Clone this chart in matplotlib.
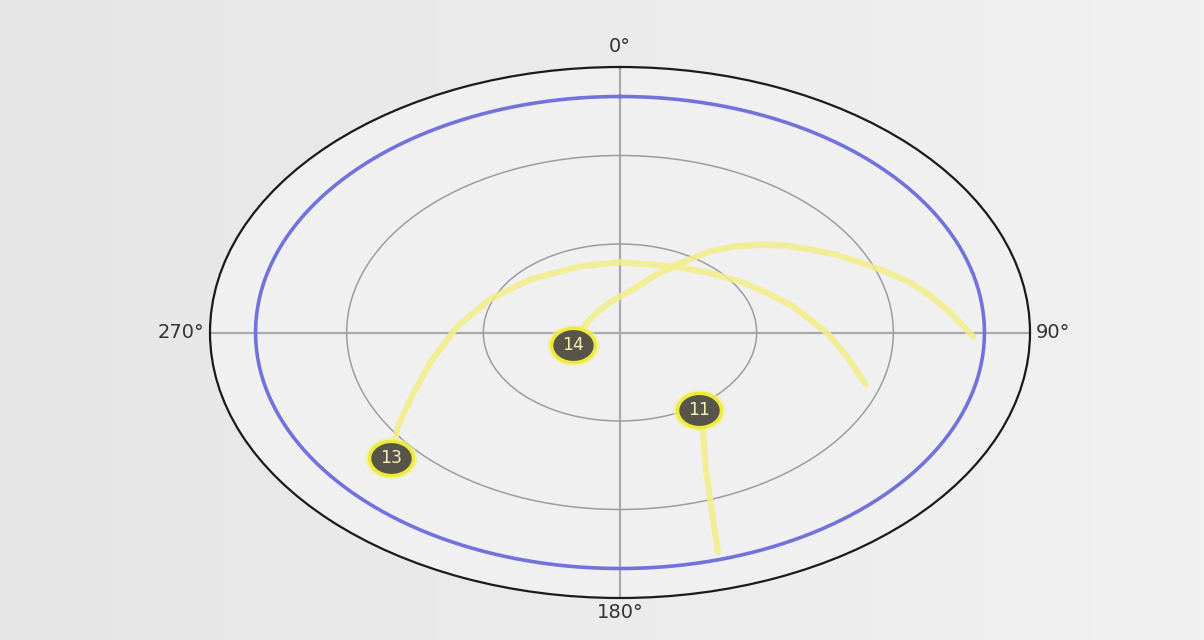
import numpy as np
import matplotlib
matplotlib.use("Agg")
import matplotlib.pyplot as plt
from matplotlib.path import Path

# Satellite sky plot: azimuth (deg, clockwise from north) and elevation (deg)
sat_ids = ["11", "13", "14"]
sat_az = [146.45, 229.83, 248.43]
sat_el = [58.6, 24.2, 78.9]

track11_az = [146.45, 151.79, 157.91, 160.79, 163.87]
track11_el = [58.6, 51.5, 39.8, 29.9, 12.6]

track13_az = [229.83, 236.76, 243.74, 256.27, 273.26, 291.44, 312.33, 338.62,
              0.0, 15.92, 30.82, 45.21, 57.83, 67.81, 76.91, 90.0, 99.29, 108.11]
track13_el = [24.2, 31.7, 38.6, 47.1, 54.2, 59.3, 63.3, 65.9,
              66.2, 66.0, 64.3, 61.6, 58.1, 54.9, 51.0, 44.6, 39.5, 33.2]

track14_az = [248.43, 295.16, 325.89, 347.84, 2.0, 11.06, 21.65, 29.34, 35.70,
              40.83, 45.96, 50.79, 55.95, 60.69, 65.71, 70.39, 75.07, 79.84,
              84.65, 91.01]
track14_el = [78.9, 82.0, 81.4, 79.6, 77.4, 75.1, 69.2, 63.1, 56.1,
              51.4, 47.2, 43.3, 39.7, 35.9, 32.2, 28.25, 24.1, 20.6,
              17.2, 12.5]

tracks = [(track11_az, track11_el), (track13_az, track13_el),
          (track14_az, track14_el)]

elevation_mask = 10
ring_elevations = [60, 30]
direction_ticks = [0, 90, 180, 270]
direction_labels = ["0°", "90°", "180°", "270°"]

fig = plt.figure(figsize=(12.04, 6.4), dpi=100)

# soft grey gradient backdrop
bg = fig.add_axes([0, 0, 1, 1], zorder=-5)
grad = np.linspace(0, 1, 256)[None, :]
bg.imshow(grad, aspect="auto", cmap=matplotlib.colors.LinearSegmentedColormap.from_list(
    "bg", ["#e6e6e6", "#f1f1f1"]), extent=[0, 1, 0, 1])
bg.axis("off")

ax = fig.add_axes([210 / 1204, 42 / 640, 820 / 1204, 531 / 640], projection="polar")
ax.set_aspect("auto")
ax.set_facecolor("#f0f0f0")
ax.set_theta_zero_location("N")
ax.set_theta_direction(-1)
ax.set_ylim(0, 90)

ax.set_xticks(np.deg2rad(direction_ticks))
ax.set_xticklabels([])
ax.set_yticks([90 - e for e in ring_elevations])
ax.set_yticklabels([])
ax.xaxis.grid(True, color="#a9a9a9", linewidth=1.6)
ax.yaxis.grid(True, color="#9c9ca6", linewidth=1.1)
ax.spines["polar"].set_color("#1a1a1a")
ax.spines["polar"].set_linewidth(1.6)

# compass labels just outside the rim
label_spots = {0: (0.5, 1.038, "center", "center"),
               90: (1.007, 0.5, "left", "center"),
               180: (0.5, -0.027, "center", "center"),
               270: (-0.007, 0.5, "right", "center")}
for deg, lab in zip(direction_ticks, direction_labels):
    x, y, ha, va = label_spots[deg]
    ax.text(x, y, lab, transform=ax.transAxes, ha=ha, va=va,
            fontsize=14, color="#333333")

# elevation mask ring
theta_full = np.linspace(0, 2 * np.pi, 400)
ax.plot(theta_full, np.full_like(theta_full, 90 - elevation_mask),
        color="#7272dc", linewidth=2.6, zorder=3)

# satellite tracks
for az, el in tracks:
    th = np.unwrap(np.deg2rad(az))
    rr = 90 - np.asarray(el)
    ax.plot(th, rr, color="#f3ee88", linewidth=4.5, alpha=0.85,
            solid_capstyle="round", solid_joinstyle="round", zorder=4)

# slightly wide oval marker
t = np.linspace(0, 2 * np.pi, 60)
oval = Path(np.column_stack([1.28 * np.cos(t), np.sin(t)]), closed=True)

for sid, az, el in zip(sat_ids, sat_az, sat_el):
    th = np.deg2rad(az)
    r = 90 - el
    ax.plot(th, r, marker=oval, markersize=38, color="#f4f08a", alpha=0.6,
            markeredgewidth=0, zorder=5)
    ax.plot(th, r, marker=oval, markersize=31.5, markerfacecolor="#57544a",
            markeredgecolor="#ecea3a", markeredgewidth=2.4, zorder=6)
    ax.text(th, r, sid, ha="center", va="center", fontsize=12.5,
            color="#f2f0b4", zorder=7)

fig.savefig("out.png", dpi=100)
